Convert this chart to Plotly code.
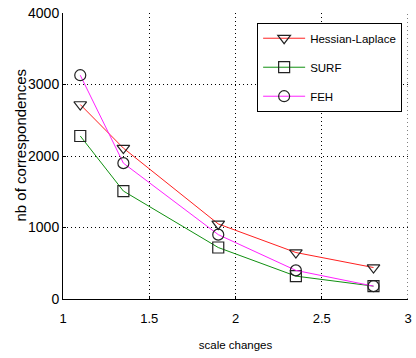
import plotly.graph_objects as go

scale = [1.1, 1.35, 1.9, 2.35, 2.8]
hessian = [2720, 2110, 1050, 650, 440]
surf = [2280, 1510, 720, 320, 180]
feh = [3130, 1900, 900, 400, 180]

series = [
    ("Hessian-Laplace", hessian, "#ff2020", "triangle-down-open"),
    ("SURF", surf, "#109010", "square-open"),
    ("FEH", feh, "#ff20ff", "circle-open"),
]

FONT = "Liberation Sans, Arial"

fig = go.Figure()
for name, vals, col, sym in series:
    fig.add_trace(go.Scatter(
        x=scale, y=vals, name=name, mode="lines+markers", legendgroup=name,
        line=dict(color=col, width=1),
        marker=dict(symbol=sym, size=11, color="#222222", line=dict(width=1.2, color="#222222")),
    ))

axis_common = dict(
    showgrid=True, gridcolor="black", griddash="1px,3px", gridwidth=1,
    showline=True, linecolor="black", linewidth=1, mirror=False,
    zeroline=False, ticks="inside", ticklen=3, tickcolor="black",
    tickfont=dict(family=FONT, size=13, color="black"),
)

fig.update_layout(
    width=416, height=358,
    margin=dict(l=63, r=4, t=13, b=59),
    plot_bgcolor="white", paper_bgcolor="white",
    font=dict(family=FONT, color="black"),
    xaxis=dict(range=[1, 3], tickvals=[1, 1.5, 2, 2.5, 3], ticktext=["1", "1.5", "2", "2.5", "3"],
               ticklabelstandoff=7,
               title=dict(text="scale changes", font=dict(family=FONT, size=11.5), standoff=16),
               **axis_common),
    yaxis=dict(range=[0, 4000], tickvals=[0, 1000, 2000, 3000, 4000],
               tickfont=dict(family=FONT, size=14, color="black"),
               **{k: v for k, v in axis_common.items() if k != "tickfont"}),
    legend=dict(x=0.983, y=0.966, xanchor="right", yanchor="top",
                bgcolor="white", bordercolor="black", borderwidth=1,
                font=dict(family=FONT, size=11.5, color="black"),
                itemwidth=42, tracegroupgap=10),
    showlegend=True,
)
fig.add_annotation(text="nb of correspondences", xref="paper", yref="paper",
                   x=(20 - 63) / 349, y=(299 - 145) / 286, xanchor="center", yanchor="middle",
                   textangle=-90, showarrow=False, font=dict(family=FONT, size=15, color="black"))
fig.add_shape(type="line", xref="x", yref="y", x0=3, x1=3, y0=0, y1=4000,
              line=dict(color="black", width=1, dash="1px,3px"))

fig.write_html("out.html")
